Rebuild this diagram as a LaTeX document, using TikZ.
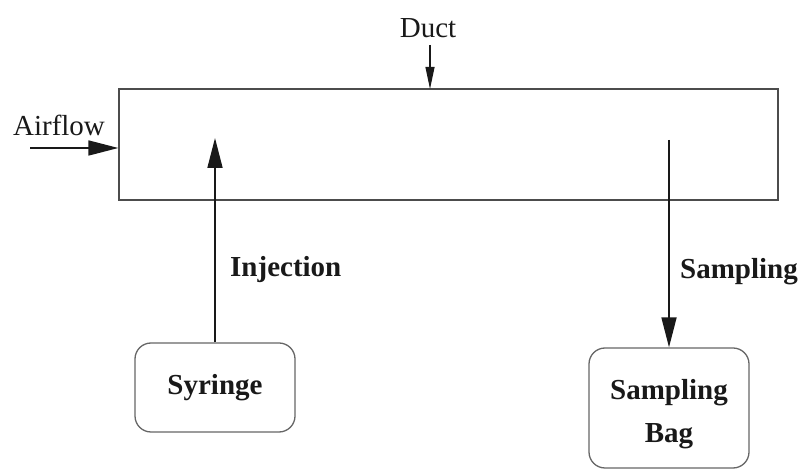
\documentclass[tikz,border=0pt]{standalone}
\usepackage{fontspec}
\setmainfont{Liberation Serif}
\usetikzlibrary{arrows.meta}
\tikzset{
  x=1pt, y=1pt,
  ductbox/.style={draw=black!70, line width=1.3pt, minimum width=659pt, minimum height=111pt, inner sep=0},
  roundbox/.style={draw=black!60, line width=1.3pt, rounded corners=16pt, inner sep=0, font=\fontsize{29}{43}\selectfont\bfseries, align=center, text=black!90},
  boxtext/.style={inner sep=0, font=\fontsize{29}{43}\selectfont\bfseries, align=center, text=black!90},
  plainlab/.style={font=\fontsize{29}{34}\selectfont, inner sep=0, text=black!90},
  boldlab/.style={font=\fontsize{29}{34}\selectfont\bfseries, inner sep=0, text=black!90},
  bigarrow/.style={draw=black!90, line width=1.7pt, -{Triangle[length=30pt, width=15pt]}},
  smallarrow/.style={draw=black!90, line width=1.1pt, -{Triangle[length=22pt, width=9pt]}}
}
\begin{document}
\begin{tikzpicture}
\useasboundingbox (0,0) rectangle (810,470);
% duct
\node[ductbox] (duct) at (448.5,325.5) {};
\node[plainlab] (ductlab) at (428,442) {Duct};
\coordinate (dstart) at (430,425);
\coordinate (ducttop) at (430,381);
\draw[smallarrow] (dstart) -- (ducttop);
% airflow
\node[plainlab] (airlab) at (59,345) {Airflow};
\coordinate (airstart) at (30,322);
\draw[bigarrow] (airstart) -- (duct.west |- airstart);
% syringe
\node[roundbox, minimum width=160pt, minimum height=89pt] (syr) at (215,82.5) {Syringe};
\coordinate (injend) at (215,332);
\draw[bigarrow] (syr.north) -- (injend);
\node[boldlab, anchor=west] (injlab) at (230,200) {Injection};
% sampling bag
\node[roundbox, minimum width=160pt, minimum height=120pt] (bag) at (669,62) {};
\node[boxtext] (bagtext) at ([yshift=-6pt]bag.center) {Sampling\\Bag};
\coordinate (sampstart) at (669,330);
\draw[bigarrow] (sampstart) -- (bag.north);
\node[boldlab, anchor=west] (samplab) at (680,198) {Sampling};
\end{tikzpicture}
\end{document}
